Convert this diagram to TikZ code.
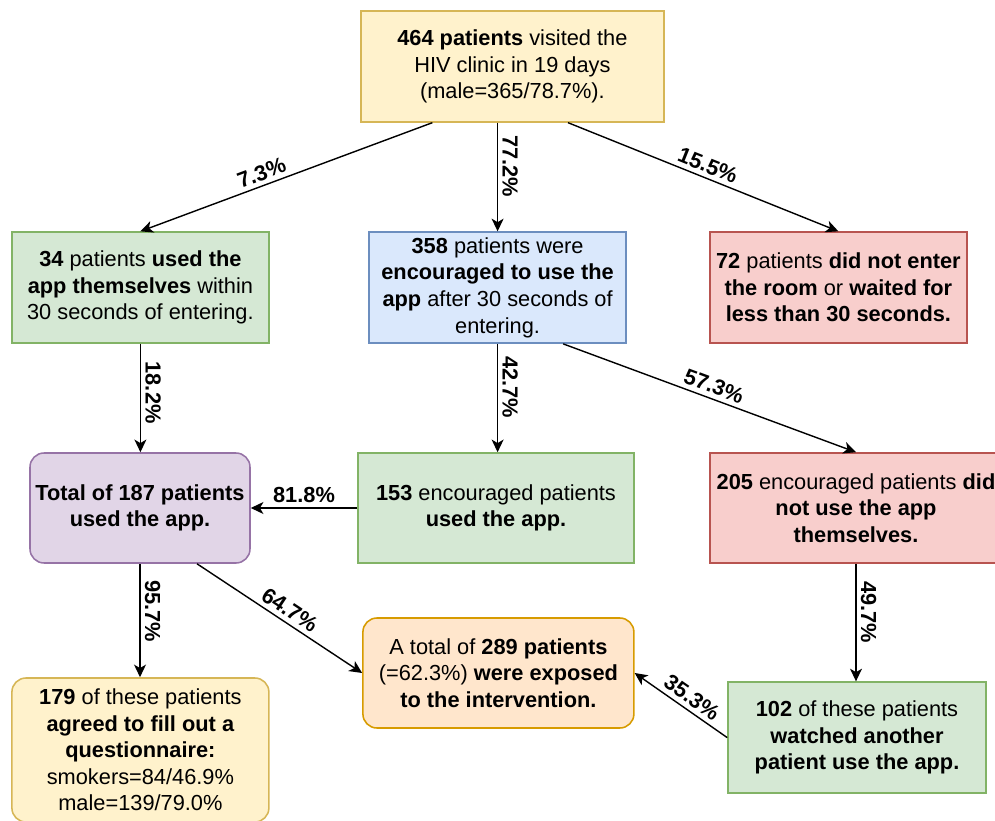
\documentclass[tikz,border=0pt]{standalone}
\usepackage{fontspec}
\setsansfont{Liberation Sans}
\usepackage{xcolor}
\usepackage{tikz}
\usetikzlibrary{arrows.meta, calc}
\definecolor{yelfill}{HTML}{FFF2CC}\definecolor{yeldraw}{HTML}{D6B656}
\definecolor{grnfill}{HTML}{D5E8D4}\definecolor{grndraw}{HTML}{82B366}
\definecolor{blufill}{HTML}{DAE8FC}\definecolor{bludraw}{HTML}{6C8EBF}
\definecolor{redfill}{HTML}{F8CECC}\definecolor{reddraw}{HTML}{B85450}
\definecolor{purfill}{HTML}{E1D5E7}\definecolor{purdraw}{HTML}{9673A6}
\definecolor{orafill}{HTML}{FFE6CC}\definecolor{oradraw}{HTML}{D79B00}

\begin{document}
\begin{tikzpicture}[
    box/.style     ={rectangle, line width=1.1pt, align=center, inner sep=2pt, text=black, font=\sffamily\fontsize{15.5}{18.9}\selectfont},
    roundbox/.style={box, rounded corners=10pt},
    flow/.style    ={-{Stealth[length=9pt, width=8.5pt, inset=2.5pt]}, line width=1pt},
    pct/.style     ={font=\sffamily\bfseries\fontsize{15.5}{18.9}\selectfont, inner sep=3pt},
    slab/.style    ={pct, sloped, above},
    vlab/.style    ={pct, rotate=-90, anchor=south}
]
\def\bw{6.425cm}\def\bh{2.775cm}
% --- frame (the right box runs past the edge) ---
\clip (0,0) rectangle (24.875,-20.525);

% ============ row 1 ============
\node[box, draw=yeldraw, fill=yelfill, minimum width=7.575cm, minimum height=\bh] (visit) at (12.81,-1.66)
  {\textbf{464 patients} visited the\\HIV clinic in 19 days\\(male=365/78.7\%).};

% ============ row 2 ============
\node[box, draw=grndraw, fill=grnfill, minimum width=\bw, minimum height=\bh] (selfuse) at (3.51,-7.19)
  {\textbf{34} patients \textbf{used the}\\\textbf{app themselves} within\\30 seconds of entering.};
\node[box, draw=bludraw, fill=blufill, minimum width=\bw, minimum height=\bh] (encour) at (12.44,-7.19)
  {\textbf{358} patients were\\\textbf{encouraged to use the}\\\textbf{app} after 30 seconds of\\entering.};
\node[box, draw=reddraw, fill=redfill, minimum width=\bw, minimum height=\bh] (noenter) at (20.96,-7.19)
  {\textbf{72} patients \textbf{did not enter}\\\textbf{the room} or \textbf{waited for}\\\textbf{less than 30 seconds.}};

% ============ row 3 ============
\node[roundbox, draw=purdraw, fill=purfill, minimum width=5.5cm, minimum height=2.75cm] (total) at (3.5,-12.7)
  {\textbf{Total of 187 patients}\\\textbf{used the app.}};
\node[box, draw=grndraw, fill=grnfill, minimum width=6.9cm, minimum height=2.75cm] (encuse) at (12.4,-12.7)
  {\textbf{153} encouraged patients\\\textbf{used the app.}};
\node[box, draw=reddraw, fill=redfill, minimum width=7.3cm, minimum height=2.75cm] (encnot) at (21.4,-12.7)
  {\textbf{205} encouraged patients \textbf{did}\\\textbf{not use the app}\\\textbf{themselves.}};

% ============ row 4 ============
\node[roundbox, draw=oradraw, fill=orafill, minimum width=6.775cm, minimum height=2.75cm] (exposed) at (12.46,-16.825)
  {A total of \textbf{289 patients}\\(=62.3\%) \textbf{were exposed}\\\textbf{to the intervention.}};
\node[roundbox, draw=yeldraw, fill=yelfill, minimum width=\bw, minimum height=3.6cm] (quest) at (3.51,-18.75)
  {\textbf{179} of these patients\\\textbf{agreed to fill out a}\\\textbf{questionnaire:}\\smokers=84/46.9\%\\male=139/79.0\%};
\node[box, draw=grndraw, fill=grnfill, minimum width=6.45cm, minimum height=\bh] (watched) at (21.425,-18.44)
  {\textbf{102} of these patients\\\textbf{watched another}\\\textbf{patient use the app.}};

% --- connectors ---
\draw[flow] ([xshift=-2cm]visit.south) -- node[slab, pos=0.57]{7.3\%} (selfuse.north);
\draw[flow] (encour.north |- visit.south) -- node[vlab, pos=0.4]{77.2\%} (encour.north);
\draw[flow] ([xshift=1.39cm]visit.south) -- node[slab, pos=0.5]{15.5\%} (noenter.north);
\draw[flow] (selfuse.south) -- node[vlab, pos=0.45]{18.2\%} (selfuse.south |- total.north);
\draw[flow] (encour.south) -- node[vlab, pos=0.4]{42.7\%} (encour.south |- encuse.north);
\draw[flow] ([xshift=1.64cm]encour.south) -- node[slab, pos=0.5]{57.3\%} (encnot.north);
\draw[flow] (encuse.west) -- node[pct, above]{81.8\%} (total.east);
\draw[flow] (total.south) -- node[vlab, pos=0.42]{95.7\%} (total.south |- quest.north);
\draw[flow] ([xshift=1.425cm]total.south) -- node[slab, pos=0.52]{64.7\%} (exposed.west);
\draw[flow] (encnot.south) -- node[vlab, pos=0.41]{49.7\%} (encnot.south |- watched.north);
\draw[flow] (watched.west) -- node[slab, pos=0.46]{35.3\%} (exposed.east);
\end{tikzpicture}
\end{document}
